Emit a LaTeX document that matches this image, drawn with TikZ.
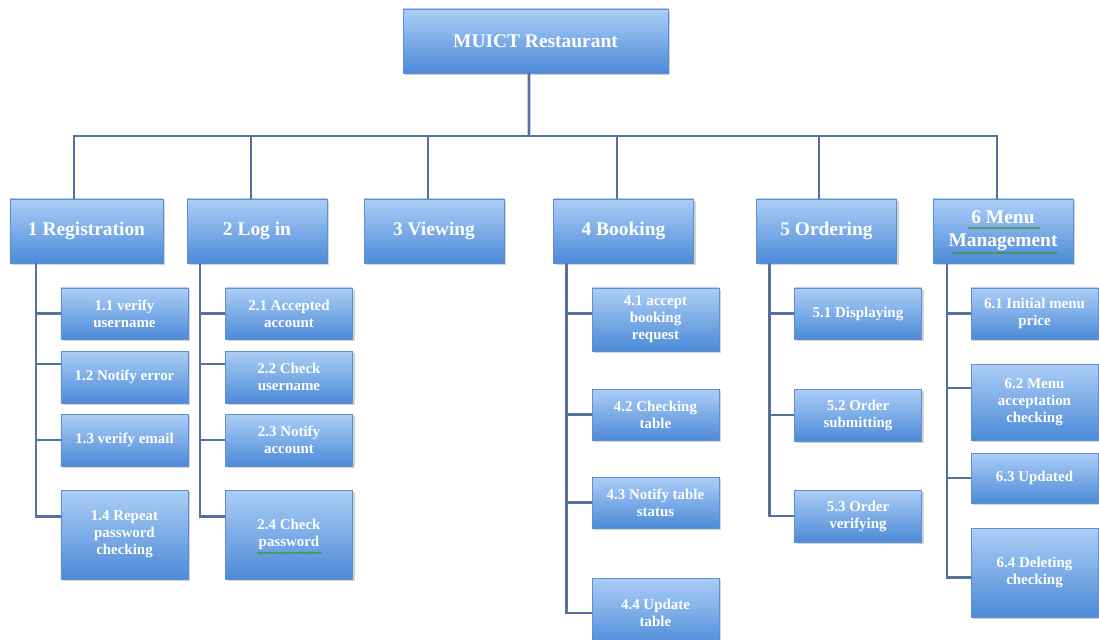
\documentclass[tikz,border=0pt]{standalone}
\usepackage{fontspec}
\setmainfont{Liberation Serif}
\usetikzlibrary{
  shadows,
  positioning,
  decorations.pathmorphing
}
\definecolor{boxtop}{RGB}{172,206,246}
\definecolor{boxbottom}{RGB}{76,138,216}
\definecolor{boxrim}{RGB}{96,142,206}
\definecolor{linkblue}{RGB}{84,114,160}
\definecolor{spellgreen}{RGB}{60,150,50}

\begin{document}
\begin{tikzpicture}[
      x=1bp, y=-1bp,
      task/.style={
         rectangle,
         draw=boxrim,
         top color=boxtop,
         bottom color=boxbottom,
         text=white,
         align=center,
         inner sep=0pt,
         drop shadow={shadow xshift=2bp,shadow yshift=-2bp,opacity=0.35}
      },
      phase/.style={
         task,
         minimum width=140bp,
         minimum height=64bp,
         font=\bfseries\fontsize{19.5}{23}\selectfont
      },
      activity/.style={
         task,
         minimum width=127bp,
         font=\bfseries\fontsize{15}{17}\selectfont
      },
      link/.style={draw=linkblue, line width=2.6bp},
      spell/.style={
         draw=spellgreen, line width=0.8bp, decorate,
         decoration={snake, amplitude=0.7bp, segment length=2.6bp}
      }
    ]
    \useasboundingbox (0,0) rectangle (1099,640);

    % top level and phases
    \node (n0) [phase, minimum width=265bp] at (535.5,41) {MUICT Restaurant};
    \node (n1) [phase, minimum width=153bp] at (86.5,231) {1 Registration};
    \node (n2) [phase] at (257,231) {2 Log in};
    \node (n3) [phase] at (434,231) {3 Viewing};
    \node (n4) [phase] at (623.5,231) {4 Booking};
    \node (n5) [phase] at (826.5,231) {5 Ordering};
    \node (n6) [phase] at (1003,231) {6 Menu\\Management};

    % activities
    \node (n11) [activity, minimum height=51bp] at (124.5,313.5) {1.1 verify\\username};
    \node (n12) [activity, minimum height=52bp] at (124.5,377) {1.2 Notify error};
    \node (n13) [activity, minimum height=52bp] at (124.5,440) {1.3 verify email};
    \node (n14) [activity, minimum height=89bp] at (124.5,534.5) {1.4 Repeat\\password\\checking};

    \node (n21) [activity, minimum height=51bp] at (289,313.5) {2.1 Accepted\\account};
    \node (n22) [activity, minimum height=52bp] at (289,377) {2.2 Check\\username};
    \node (n23) [activity, minimum height=52bp] at (289,440) {2.3 Notify\\account};
    \node (n24) [activity, minimum height=89bp] at (289,534.5) {2.4 Check\\password};

    \node (n41) [activity, minimum height=63bp] at (655.5,319.5) {4.1 accept\\booking\\request};
    \node (n42) [activity, minimum height=51bp] at (655.5,414.5) {4.2 Checking\\table};
    \node (n43) [activity, minimum height=51bp] at (655.5,502.5) {4.3 Notify table\\status};
    \node (n44) [activity, minimum height=70bp] at (655.5,613) {4.4 Update\\table};

    \node (n51) [activity, minimum height=51bp] at (858,313.5) {5.1 Displaying};
    \node (n52) [activity, minimum height=52bp] at (858,415) {5.2 Order\\submitting};
    \node (n53) [activity, minimum height=52bp] at (858,516) {5.3 Order\\verifying};

    \node (n61) [activity, minimum height=51bp] at (1034.5,313.5) {6.1 Initial menu\\price};
    \node (n62) [activity, minimum height=76bp] at (1034.5,402) {6.2 Menu\\acceptation\\checking};
    \node (n63) [activity, minimum height=50bp] at (1034.5,478) {6.3 Updated};
    \node (n64) [activity, minimum height=89bp] at (1034.5,572.5) {6.4 Deleting\\checking};

    % spell-check marks under some words
    \draw[spell] ([xshift=-35bp,yshift=3bp]n6.center) -- ([xshift=37bp,yshift=3bp]n6.center);
    \draw[spell] ([xshift=-51bp,yshift=-22bp]n6.center) -- ([xshift=55bp,yshift=-22bp]n6.center);
    \draw[spell] ([xshift=-32bp,yshift=-18.5bp]n24.center) -- ([xshift=33bp,yshift=-18.5bp]n24.center);

    % bus under the top box
    \coordinate (bus) at (529,136);
    \draw[link] ([xshift=-6.5bp]n0.south) -- (bus);
    \foreach \n/\dx in {1/-12.5, 2/-6, 3/-6, 4/-6.5, 5/-7.5, 6/-6}
       \draw[link] ([xshift=\dx bp]n\n.north) |- (bus);

    % spines down the left of each phase
    \foreach \p/\s/\c/\dy in {
       1/26/11/0, 1/26/12/13, 1/26/13/0, 1/26/14/18,
       2/13/21/0, 2/13/22/13, 2/13/23/0, 2/13/24/18,
       4/13/41/6, 4/13/42/0, 4/13/43/0, 4/13/44/0,
       5/13/51/0, 5/13/52/0, 5/13/53/0,
       6/14/61/0, 6/14/62/14, 6/14/63/0, 6/14/64/-5}
       \draw[link] ([xshift=\s bp]n\p.south west) |- ([yshift=\dy bp]n\c.west);
\end{tikzpicture}
\end{document}
